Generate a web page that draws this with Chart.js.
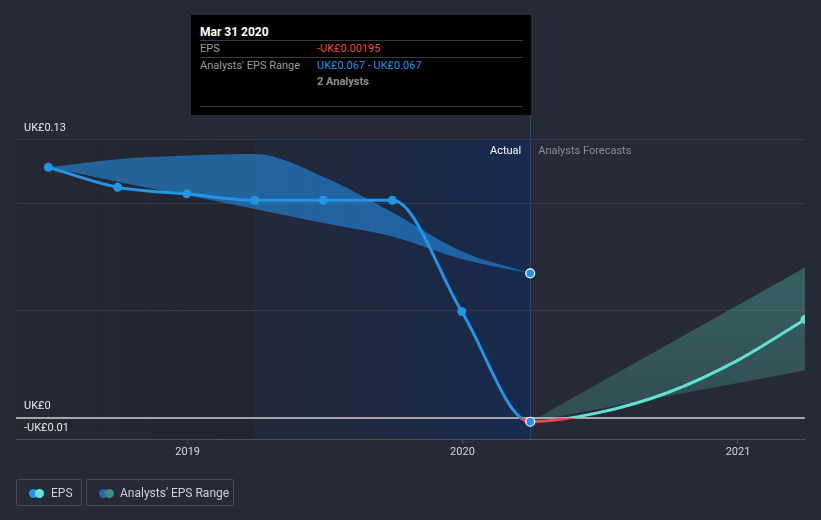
<!DOCTYPE html>
<html>
<head>
<meta charset="utf-8">
<script src="https://cdn.jsdelivr.net/npm/chart.js@4.4.1/dist/chart.umd.min.js"></script>
<style>
  html, body { margin: 0; padding: 0; background: #262a36; }
  body { width: 821px; height: 520px; position: relative; overflow: hidden; font-family: Roboto, 'Open Sans', sans-serif; }
  #wrap { position: absolute; left: 0; top: 0; width: 821px; height: 520px; }
  .tip { position: absolute; left: 191px; top: 15px; width: 340px; height: 100px; background: #000; color: #fff; font-size: 11px; }
  .tip .t { position: absolute; left: 9px; top: 9px; font-weight: bold; font-size: 12px; }
  .tip .ln { position: absolute; left: 9px; width: 323px; height: 1px; background: #3b3b3b; }
  .tip .lb { position: absolute; left: 9px; color: #9c9c9c; }
  .tip .v { position: absolute; left: 126px; }
  .legend { position: absolute; top: 479px; height: 27px; border: 1px solid #464b57; border-radius: 2px; color: #cfd0d4; font-size: 12px; line-height: 27px; box-sizing: border-box; }
  .dot { position: absolute; top: 9px; width: 9px; height: 9px; border-radius: 50%; }
</style>
</head>
<body>
<div id="wrap"><canvas id="epsChart" width="821" height="520"></canvas></div>

<div class="tip">
  <div class="t" style="top:10px">Mar 31 2020</div>
  <div class="ln" style="top:25px"></div>
  <div class="lb" style="top:27px">EPS</div>
  <div class="v" style="top:27px;color:#e94a4a">-UK£0.00195</div>
  <div class="ln" style="top:42px"></div>
  <div class="lb" style="top:44px">Analysts' EPS Range</div>
  <div class="v" style="top:44px;color:#2394e6">UK£0.067 - UK£0.067</div>
  <div class="v" style="top:60px;color:#8d8d8d;font-weight:bold">2 Analysts</div>
  <div class="ln" style="top:91px"></div>
</div>

<div class="legend" style="left:16px;width:66px">
  <span class="dot" style="left:12px;background:#2394e6"></span>
  <span class="dot" style="left:18px;background:#5fe3cf"></span>
  <span style="position:absolute;left:34px">EPS</span>
</div>
<div class="legend" style="left:86px;width:148px">
  <span class="dot" style="left:12px;background:#2a6aa0"></span>
  <span class="dot" style="left:18px;background:#3f8a86"></span>
  <span style="position:absolute;left:33px">Analysts' EPS Range</span>
</div>

<script>
// reported EPS (quarter ends)
const epsDates = ['2018-06-30', '2018-09-30', '2018-12-31', '2019-03-31', '2019-06-30', '2019-09-30', '2019-12-31', '2020-03-31'];
const epsValues = [0.1168, 0.1075, 0.1044, 0.1014, 0.1014, 0.1014, 0.0495, -0.00195];
// past analyst estimates range
const rangeHigh = [0.1168, 0.1206, 0.1223, 0.1230, 0.1124, 0.0957, 0.0776, 0.0673];
const rangeLow = [0.1168, 0.1101, 0.1037, 0.0973, 0.0908, 0.0845, 0.0740, 0.0673];
// forecast EPS
const forecastDates = ['2020-03-31', '2020-06-30', '2020-09-30', '2020-12-31', '2021-03-31'];
const forecastEps = [-0.00195, 0.0023, 0.0117, 0.0266, 0.0458];
// forecast range
const rangeDates = ['2020-03-31', '2021-03-31'];
const forecastHigh = [-0.00195, 0.070];
const forecastLow = [-0.00195, 0.022];
// axes
const yTicks = [-0.01, 0, 0.05, 0.10, 0.13];
const yTickLabels = ['-UK£0.01', 'UK£0', '', '', 'UK£0.13'];
const yearTicks = ['2019-01-01', '2020-01-01', '2021-01-01'];
const xMin = '2018-05-18';
const xMax = '2021-03-31';
const actualEnd = '2020-03-31';
const shadeStart = '2019-03-31';

const ts = d => Date.parse(d + 'T00:00:00Z');
const pts = (dates, vals) => dates.map((d, i) => ({ x: ts(d), y: vals[i] }));

const BLUE = '#2394e6', TEAL = '#5fe3cf', RED = '#e94a4a';

// colour a line differently above and below zero
function splitColor(above, below) {
    return function (ctx) {
        const chart = ctx.chart;
        const area = chart.chartArea;
        if (!area) return above;
        const y0 = chart.scales.y.getPixelForValue(0);
        const off = Math.min(1, Math.max(0, (y0 - area.top) / (area.bottom - area.top)));
        const g = chart.ctx.createLinearGradient(0, area.top, 0, area.bottom);
        g.addColorStop(0, above);
        g.addColorStop(off, above);
        g.addColorStop(off, below);
        g.addColorStop(1, below);
        return g;
    };
}

// EPS line gets the next forecast point so the curve flattens at the join (segment hidden)
const epsLine = pts(epsDates, epsValues).concat(pts(forecastDates.slice(1, 2), forecastEps.slice(1, 2)));
const lastEps = epsDates.length - 1;
// forecast line gets the previous actual point, segment hidden
const fcLine = pts(epsDates.slice(-2, -1), epsValues.slice(-2, -1)).concat(pts(forecastDates, forecastEps));

const bgPlugin = {
    id: 'regions',
    beforeDraw(chart) {
        const { ctx, chartArea: a, scales: { x } } = chart;
        const xs = x.getPixelForValue(ts(shadeStart));
        const xe = x.getPixelForValue(ts(actualEnd));
        ctx.save();
        let g = ctx.createLinearGradient(a.left, 0, xs, 0);
        g.addColorStop(0, 'rgba(20,22,28,0.04)');
        g.addColorStop(1, 'rgba(20,22,28,0.22)');
        ctx.fillStyle = g;
        ctx.fillRect(a.left, a.top, xs - a.left, a.bottom - a.top);
        g = ctx.createLinearGradient(xs, 0, xe, 0);
        g.addColorStop(0, 'rgba(22,38,70,0.22)');
        g.addColorStop(1, 'rgba(20,42,85,0.82)');
        ctx.fillStyle = g;
        ctx.fillRect(xs, a.top, xe - xs, a.bottom - a.top);
        ctx.restore();
    },
    beforeDatasetsDraw(chart) {
        const { ctx, chartArea: a, scales: { x } } = chart;
        const xe = Math.round(x.getPixelForValue(ts(actualEnd))) + 0.5;
        ctx.save();
        ctx.strokeStyle = '#22457c';
        ctx.lineWidth = 1;
        ctx.beginPath();
        ctx.moveTo(xe, 115);
        ctx.lineTo(xe, a.bottom);
        ctx.stroke();
        ctx.restore();
    },
    afterDraw(chart) {
        const { ctx, chartArea: a, scales: { x, y } } = chart;
        const xe = x.getPixelForValue(ts(actualEnd));
        ctx.save();
        ctx.font = '11px Roboto';
        ctx.textBaseline = 'middle';
        ctx.fillStyle = '#e8e8ea';
        yTicks.forEach((v, i) => {
            if (yTickLabels[i]) ctx.fillText(yTickLabels[i], a.left + 8, y.getPixelForValue(v) - 11);
        });
        ctx.textAlign = 'right';
        ctx.fillStyle = '#ffffff';
        ctx.fillText('Actual', xe - 9, 151);
        ctx.textAlign = 'left';
        ctx.fillStyle = '#8b8e95';
        ctx.fillText('Analysts Forecasts', xe + 8, 151);
        ctx.restore();
    }
};

const chart = new Chart(document.getElementById('epsChart').getContext('2d'), {
    type: 'line',
    data: {
        datasets: [
            {
                label: 'EPS',
                data: epsLine,
                order: 0,
                borderColor: splitColor(BLUE, RED),
                borderWidth: 3,
                cubicInterpolationMode: 'monotone',
                segment: { borderColor: c => c.p0DataIndex >= lastEps ? 'rgba(0,0,0,0)' : undefined },
                pointRadius: epsLine.map((p, i) => i > lastEps ? 0 : 4.5),
                pointBackgroundColor: BLUE,
                pointBorderColor: epsLine.map((p, i) => i === lastEps ? '#ffffff' : BLUE),
                pointBorderWidth: epsLine.map((p, i) => i === lastEps ? 1.2 : 0),
                fill: false
            },
            {
                label: 'EPS forecast',
                data: fcLine,
                order: 1,
                borderColor: splitColor(TEAL, RED),
                borderWidth: 3,
                cubicInterpolationMode: 'monotone',
                segment: { borderColor: c => c.p0DataIndex === 0 ? 'rgba(0,0,0,0)' : undefined },
                pointRadius: fcLine.map((p, i) => i === fcLine.length - 1 ? 4.5 : 0),
                pointBackgroundColor: TEAL,
                pointBorderWidth: 0,
                fill: false
            },
            {
                label: 'Analysts range high',
                data: pts(epsDates, rangeHigh),
                order: 2,
                borderWidth: 0,
                cubicInterpolationMode: 'monotone',
                backgroundColor: 'rgba(35,140,225,0.6)',
                fill: '+1',
                pointRadius: rangeHigh.map((v, i) => i === rangeHigh.length - 1 ? 4.5 : 0),
                pointBackgroundColor: BLUE,
                pointBorderColor: '#ffffff',
                pointBorderWidth: 1.2
            },
            {
                label: 'Analysts range low',
                data: pts(epsDates, rangeLow),
                order: 3,
                borderWidth: 0,
                cubicInterpolationMode: 'monotone',
                pointRadius: 0,
                fill: false
            },
            {
                label: 'Forecast range high',
                data: pts(rangeDates, forecastHigh),
                order: 4,
                borderWidth: 0,
                tension: 0,
                backgroundColor: ctx => {
                    const a = ctx.chart.chartArea;
                    if (!a) return 'rgba(95,227,207,0.3)';
                    const g = ctx.chart.ctx.createLinearGradient(0, a.top, 0, a.bottom);
                    g.addColorStop(0, 'rgba(95,227,207,0.38)');
                    g.addColorStop(1, 'rgba(95,227,207,0.18)');
                    return g;
                },
                fill: '+1',
                pointRadius: 0
            },
            {
                label: 'Forecast range low',
                data: pts(rangeDates, forecastLow),
                order: 5,
                borderWidth: 0,
                tension: 0,
                pointRadius: 0,
                fill: false
            }
        ]
    },
    options: {
        responsive: false,
        animation: false,
        layout: { padding: { left: 16, right: 16, top: 139, bottom: 0 } },
        plugins: { legend: { display: false }, tooltip: { enabled: false } },
        scales: {
            x: {
                type: 'linear',
                min: ts(xMin),
                max: ts(xMax),
                afterBuildTicks: s => { s.ticks = yearTicks.map(d => ({ value: ts(d) })); },
                afterFit: s => { s.height = 81; },
                ticks: {
                    color: '#d6d7da',
                    font: { family: 'Roboto', size: 11 },
                    padding: 2,
                    maxRotation: 0,
                    callback: v => new Date(v).getUTCFullYear()
                },
                grid: { drawOnChartArea: false, drawTicks: true, tickLength: 5, color: '#4b505b' },
                border: { color: '#4b505b' }
            },
            y: {
                min: -0.01,
                max: 0.13,
                afterBuildTicks: s => { s.ticks = yTicks.map(v => ({ value: v })); },
                afterFit: s => { s.width = 0; },
                ticks: { display: false },
                grid: {
                    drawTicks: false,
                    color: c => c.tick && c.tick.value === 0 ? '#a4a6ab' : (c.tick && c.tick.value === -0.01 ? '#4b505b' : '#363b47'),
                    lineWidth: c => c.tick && c.tick.value === 0 ? 2 : 1
                },
                border: { display: false }
            }
        }
    },
    plugins: [bgPlugin]
});
</script>
</body>
</html>
